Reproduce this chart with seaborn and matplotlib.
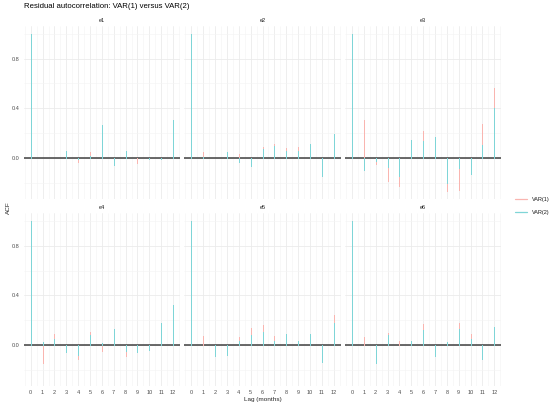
import matplotlib

matplotlib.use("Agg")

import matplotlib.pyplot as plt
import numpy as np
import pandas as pd
import seaborn as sns
from matplotlib.lines import Line2D

LAGS = list(range(13))
PANELS = ["e1", "e2", "e3", "e4", "e5", "e6"]
MODELS = ["VAR(1)", "VAR(2)"]
# ggplot hues, lightened as the reference draws them
COLORS = {"VAR(1)": "#F9B5B0", "VAR(2)": "#7FD5D7"}

# ACF per lag 0..12
var1_e1 = [1.0, 0.0, 0.0, 0.03, -0.03, 0.048, 0.25, -0.02, 0.04, -0.04, -0.01, -0.01, 0.28]
var2_e1 = [1.0, 0.0, 0.0, 0.053, -0.01, 0.02, 0.267, -0.06, 0.06, 0.0, -0.01, -0.01, 0.307]
var1_e2 = [1.0, 0.05, 0.0, 0.03, 0.035, -0.03, 0.088, 0.115, 0.077, 0.085, 0.09, -0.12, 0.17]
var2_e2 = [1.0, 0.01, 0.0, 0.048, -0.03, -0.067, 0.07, 0.10, 0.06, 0.06, 0.11, -0.147, 0.19]
var1_e3 = [1.0, 0.307, -0.048, -0.184, -0.227, 0.12, 0.22, 0.05, -0.267, -0.26, -0.10, 0.27, 0.56]
var2_e3 = [1.0, -0.093, -0.02, -0.07, -0.147, 0.144, 0.139, 0.17, -0.20, -0.08, -0.128, 0.104, 0.405]
var1_e4 = [1.0, -0.14, 0.09, -0.04, -0.107, 0.105, -0.05, 0.11, -0.09, -0.04, -0.02, 0.17, 0.31]
var2_e4 = [1.0, 0.024, 0.05, -0.056, -0.08, 0.08, 0.02, 0.129, -0.05, -0.056, -0.035, 0.177, 0.32]
var1_e5 = [1.0, 0.078, -0.06, -0.05, 0.07, 0.14, 0.164, 0.078, 0.08, 0.03, 0.08, -0.10, 0.24]
var2_e5 = [1.0, 0.0, -0.083, -0.075, 0.03, 0.08, 0.11, 0.03, 0.09, 0.03, 0.094, -0.137, 0.18]
var1_e6 = [1.0, 0.064, -0.12, 0.10, 0.03, 0.03, 0.17, -0.05, 0.01, 0.18, 0.088, -0.09, 0.14]
var2_e6 = [1.0, 0.0, -0.147, 0.08, 0.0, 0.037, 0.12, -0.083, 0.027, 0.13, 0.05, -0.11, 0.15]

series = {
    ("e1", "VAR(1)"): var1_e1, ("e1", "VAR(2)"): var2_e1,
    ("e2", "VAR(1)"): var1_e2, ("e2", "VAR(2)"): var2_e2,
    ("e3", "VAR(1)"): var1_e3, ("e3", "VAR(2)"): var2_e3,
    ("e4", "VAR(1)"): var1_e4, ("e4", "VAR(2)"): var2_e4,
    ("e5", "VAR(1)"): var1_e5, ("e5", "VAR(2)"): var2_e5,
    ("e6", "VAR(1)"): var1_e6, ("e6", "VAR(2)"): var2_e6,
}

rows = []
for (panel, model), values in series.items():
    for lag, acf in zip(LAGS, values):
        rows.append({"panel": panel, "model": model, "lag": lag, "acf": acf})
df = pd.DataFrame(rows)

sns.set_theme(style="whitegrid")
plt.rcParams["font.family"] = ["Liberation Sans", "DejaVu Sans"]

W, H = 550, 408
fig, axes = plt.subplots(2, 3, figsize=(W / 100, H / 100), dpi=100, sharex=True, sharey=True)
fig.subplots_adjust(left=23.6 / W, right=501.4 / W, top=1 - 25.8 / H, bottom=1 - 386.3 / H,
                    wspace=0.026, hspace=0.08)

lo, hi = df["acf"].min(), df["acf"].max()
pad = (hi - lo) * 0.05
xpad = (LAGS[-1] - LAGS[0]) * 0.05

for ax, panel in zip(axes.flatten(), PANELS):
    sub = df[df["panel"] == panel]
    ax.set_facecolor("white")
    for spine in ax.spines.values():
        spine.set_visible(False)
    ax.set_xlim(LAGS[0] - xpad, LAGS[-1] + xpad)
    ax.set_ylim(lo - pad, hi + pad)
    ax.set_xticks(LAGS)
    ax.set_xticks(np.arange(-0.5, 13, 1.0), minor=True)
    ax.set_yticks([0.0, 0.4, 0.8])
    ax.set_yticks([-0.2, 0.2, 0.6, 1.0], minor=True)
    ax.set_yticklabels(["0.0", "0.4", "0.8"])
    ax.grid(which="major", color="#EBEBEB", linewidth=0.6)
    ax.grid(which="minor", color="#F4F4F4", linewidth=0.4)
    ax.tick_params(which="both", length=0, labelsize=4, labelcolor="#4D4D4D", pad=3)
    ax.axhline(0, color="#404040", linewidth=1.1, zorder=2)
    for model in MODELS:
        m = sub[sub["model"] == model]
        ax.vlines(m["lag"], 0, m["acf"], color=COLORS[model], linewidth=0.6,
                  antialiased=False, zorder=3)
    ax.set_title(panel, fontsize=4, color="#1A1A1A", pad=3)
    ax.set_xlabel("")
    ax.set_ylabel("")

fig.text(24 / W, 1 - 7 / H, "Residual autocorrelation: VAR(1) versus VAR(2)",
         fontsize=5.6, color="black", ha="left", va="center")
fig.text(262.5 / W, 1 - 400 / H, "Lag (months)", fontsize=4.6, ha="center", va="center")
fig.text(8 / W, 1 - 208 / H, "ACF", fontsize=4.6, rotation=90, ha="center", va="center")

handles = [Line2D([0], [0], color=COLORS[m], linewidth=0.9) for m in MODELS]
leg = fig.legend(handles, MODELS, loc="center left", bbox_to_anchor=(510 / W, 1 - 206 / H),
                 frameon=False, fontsize=4, handlelength=2.2, labelspacing=1.6, handletextpad=0.8)
for t in leg.get_texts():
    t.set_color("#1A1A1A")

fig.savefig("out.png", dpi=100)
